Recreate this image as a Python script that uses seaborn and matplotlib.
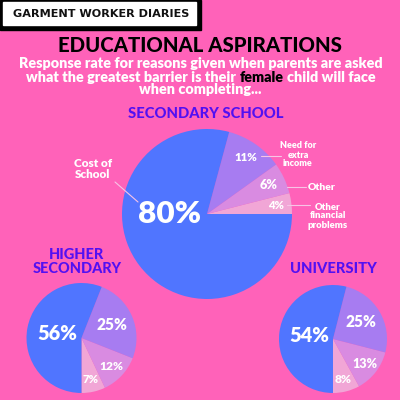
import numpy as np
import matplotlib.pyplot as plt
import seaborn as sns
from matplotlib.patches import Rectangle

# datos (orden: empezando en el borde y en sentido antihorario)
razones = ['Other\nfinancial\nproblems', 'Other', 'Need for\nextra\nincome', 'Cost of\nSchool']
secundaria = [4, 6, 11, 80]
secundaria_superior = [7, 12, 25, 56]
universidad = [8, 13, 25, 54]

colores = ['#F1A6D6', '#D98BE1', '#A77CF1', '#5075FF']
fondo = '#FF62B9'
morado = '#5210F2'

sns.set_theme(style='white')
plt.rcParams['font.family'] = ['Lato', 'DejaVu Sans']


def Y(y):
    '''pasa de pixeles (desde arriba) a coordenadas del eje'''
    return 400 - y


fig = plt.figure(figsize=(4, 4), dpi=100)
fig.patch.set_facecolor(fondo)
ax = fig.add_axes([0, 0, 1, 1])
ax.set_facecolor(fondo)
ax.set_xlim(0, 400)
ax.set_ylim(0, 400)
rend = fig.canvas.get_renderer()


def ajustar(t, ancho):
    '''cambia el tamaño de letra para que el texto mida "ancho" pixeles'''
    w = t.get_window_extent(rend).width
    t.set_fontsize(t.get_fontsize() * ancho / w)
    return t


def medir(s, tam):
    tt = ax.text(0, 0, s, fontsize=tam, fontweight='heavy')
    w = tt.get_window_extent(rend).width
    tt.remove()
    return w


def texto(x, y, s, ancho, color='white', peso='heavy', **kw):
    t = ax.text(x, Y(y), s, color=color, fontweight=peso, ha='center', va='center', **kw)
    return ajustar(t, ancho)


def torta(valores, centro, radio, dist, anchos, especial=None, inicio=-90):
    '''Dibuja una torta y pone los porcentajes segun el angulo de cada porcion'''
    wedges, _ = ax.pie(valores, colors=colores, startangle=inicio, counterclock=True,
                       center=(centro[0], Y(centro[1])), radius=radio,
                       wedgeprops=dict(linewidth=0))
    for i, w in enumerate(wedges):
        ang = np.deg2rad((w.theta1 + w.theta2) / 2)
        d = dist[i]
        if especial is not None and i in especial:
            ang = np.deg2rad(especial[i][0]); d = especial[i][1]
        x = centro[0] + d * radio * np.cos(ang)
        y = centro[1] - d * radio * np.sin(ang)
        texto(x, y, f'{valores[i]}%', anchos[i])
    return wedges


# cabecera
ax.add_patch(Rectangle((0, Y(30)), 201, 30, color='black', zorder=1))
ax.add_patch(Rectangle((3, Y(25)), 193, 23, color='white', zorder=2))
texto(101, 14, 'GARMENT WORKER DIARIES', 176, color='#111111', peso='bold', zorder=3,
      family='DejaVu Sans')

texto(200, 45, 'EDUCATIONAL ASPIRATIONS', 284, color='black', peso='black')
t1 = texto(201, 64, 'Response rate for reasons given when parents are asked', 363)
tam = t1.get_fontsize()

# segunda linea con "female" en negro
linea2 = 'what the greatest barrier is their female child will face'
antes = 'what the greatest barrier is their'
W = medir(linea2, tam)
x_izq = 201 - W / 2
x_fem = x_izq + medir(antes + ' female', tam) - medir('female', tam)
px = 400 / fig.bbox.width  # pixeles -> unidades del eje
ax.text(x_izq, Y(77), antes, fontsize=tam, fontweight='heavy', color='white',
        ha='left', va='center')
ax.text(x_fem * 1.0, Y(77), 'female', fontsize=tam, fontweight='heavy', color='black',
        ha='left', va='center')
ax.text(x_izq + W * px, Y(77), 'child will face', fontsize=tam, fontweight='heavy',
        color='white', ha='right', va='center')
ax.text(200, Y(90), 'when completing...', fontsize=tam, fontweight='heavy', color='white',
        ha='center', va='center')

# torta grande
texto(206, 114, 'SECONDARY SCHOOL', 154, color=morado, peso='black')
torta(secundaria, (207, 214), 85, [0.82, 0.8, 0.81, 0.44], [16, 18, 23, 63],
      especial={3: (180, 0.44)}, inicio=0)

linea = '#F7C4E6'
texto(93, 169, razones[3], 38, linespacing=1.0)
ax.plot([115, 138], [Y(182), Y(202)], color=linea, lw=0.8)
texto(298, 155, razones[2], 36, linespacing=1.0)
ax.plot([261, 281], [Y(156), Y(156)], color=linea, lw=0.8)
texto(322, 187, razones[1], 28)
ax.plot([287, 306], [Y(187), Y(187)], color=linea, lw=0.8)
texto(328, 216, razones[0], 40, linespacing=1.0)
ax.plot([287, 310], [Y(205), Y(205)], color=linea, lw=0.8)

# tortas chicas
texto(77, 262, 'HIGHER\nSECONDARY', 89, color=morado, peso='black', linespacing=0.95)
torta(secundaria_superior, (81.5, 338), 55, [0.78, 0.75, 0.61, 0.45], [16, 24, 31, 40])

texto(333, 269, 'UNIVERSITY', 86, color=morado, peso='black')
torta(universidad, (333, 339), 54, [0.78, 0.75, 0.61, 0.45], [17, 25, 31, 40])

ax.set_xlim(0, 400)
ax.set_ylim(0, 400)
ax.set_aspect('equal')
ax.axis('off')

fig.savefig('out.png', dpi=100, facecolor=fondo)
